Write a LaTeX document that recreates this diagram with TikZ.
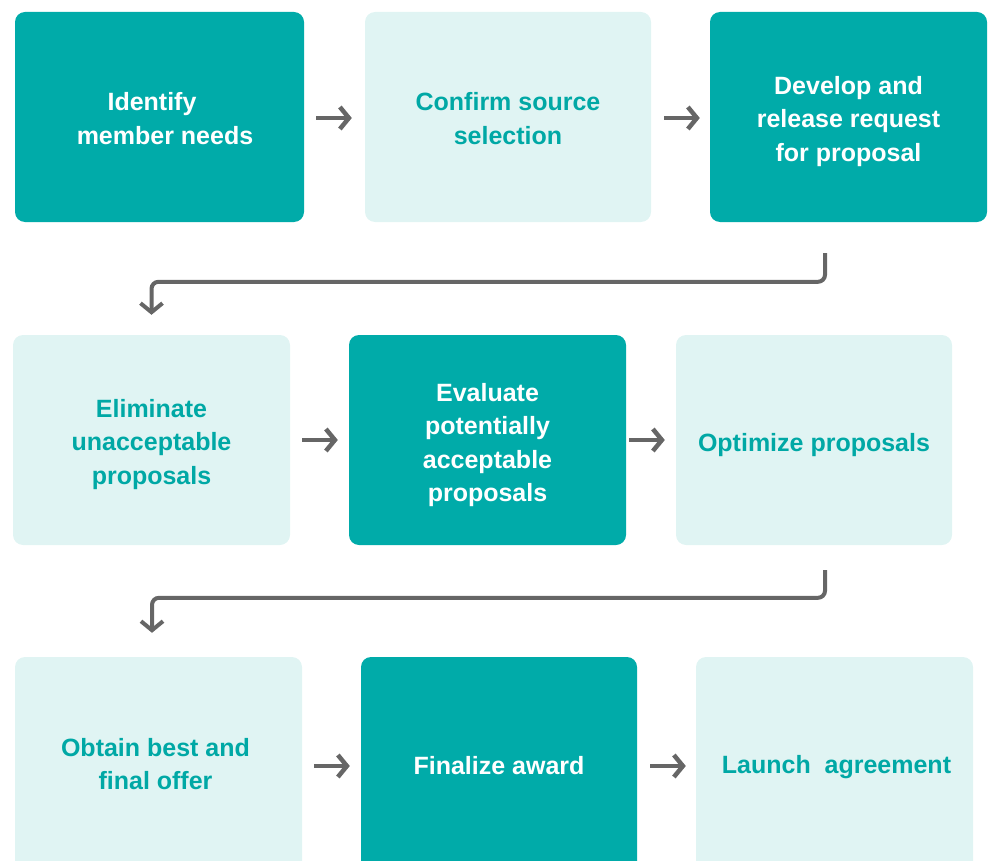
\documentclass[tikz,border=0pt]{standalone}
\usepackage{fontspec}
\setmainfont{Liberation Sans}
\usetikzlibrary{arrows.meta}
\definecolor{tealdark}{HTML}{00ABA9}
\definecolor{teallight}{HTML}{E0F4F3}
\definecolor{tealtext}{HTML}{00A8A5}
\definecolor{arrowgray}{HTML}{666666}
\tikzset{
  box/.style={rounded corners=10pt, inner sep=0pt},
  boxtext/.style={inner sep=0pt, align=center,
    font=\fontsize{25}{33.5}\selectfont\bfseries},
  darkbox/.style={box, fill=tealdark},
  lightbox/.style={box, fill=teallight},
  darktext/.style={boxtext, text=white},
  lighttext/.style={boxtext, text=tealtext},
  flow/.style={draw=arrowgray, line width=4.5pt,
    -{Straight Barb[length=9pt,width=22pt]}},
  elbow/.style={flow, line width=4pt, rounded corners=7pt}
}
\begin{document}
\begin{tikzpicture}[x=1pt,y=-1pt]
\useasboundingbox (0,0) rectangle (990,861);
\clip (0,0) rectangle (990,861);
% row 1
\node[darkbox, minimum width=289pt, minimum height=210pt,
  label={[darktext, yshift=-1.5pt]center:{Identify\hspace*{15pt}\\\hspace*{11pt}member needs}}] (b1) at (159.5,117) {};
\node[lightbox, minimum width=286pt, minimum height=210pt,
  label={[lighttext, yshift=-1.5pt]center:{Confirm source\\selection}}] (b2) at (508,117) {};
\node[darkbox, minimum width=277pt, minimum height=210pt,
  label={[darktext, yshift=-4.5pt]center:{Develop and\\release request\\for proposal}}] (b3) at (848.5,117) {};
% row 2
\node[lightbox, minimum width=277pt, minimum height=210pt,
  label={[lighttext, yshift=-4.5pt]center:{Eliminate\\unacceptable\\proposals}}] (b4) at (151.5,440) {};
\node[darkbox, minimum width=277pt, minimum height=210pt,
  label={[darktext, yshift=-5pt]center:{Evaluate\\potentially\\acceptable\\proposals}}] (b5) at (487.5,440) {};
\node[lightbox, minimum width=276pt, minimum height=210pt,
  label={[lighttext, yshift=-5pt]center:{Optimize proposals}}] (b6) at (814,440) {};
% row 3
\node[lightbox, minimum width=287pt, minimum height=218pt,
  label={[lighttext, yshift=2pt, xshift=-3pt]center:{Obtain best and\\final offer}}] (b7) at (158.5,766) {};
\node[darkbox, minimum width=276pt, minimum height=218pt,
  label={[darktext]center:{Finalize award}}] (b8) at (499,766) {};
\node[lightbox, minimum width=277pt, minimum height=218pt,
  label={[lighttext, yshift=-1pt, xshift=2pt]center:{Launch\ \ agreement}}] (b9) at (834.5,766) {};
% straight arrows
\draw[flow, shorten <=12pt, shorten >=13pt] ([yshift=-1pt]b1.east) -- ([yshift=-1pt]b2.west);
\draw[flow, shorten <=13pt, shorten >=10pt] ([yshift=-1pt]b2.east) -- ([yshift=-1pt]b3.west);
\draw[flow, shorten <=12pt, shorten >=11pt] (b4.east) -- (b5.west);
\draw[flow, shorten <=3pt, shorten >=11pt] (b5.east) -- (b6.west);
\draw[flow, shorten <=12pt, shorten >=11pt] (b7.east) -- (b8.west);
\draw[flow, shorten <=13pt, shorten >=10pt] (b8.east) -- (b9.west);
% elbow connectors
\draw[elbow] ([xshift=-23.5pt,yshift=-31pt]b3.south) |- ([yshift=53pt]b4.north) -- ([yshift=20pt]b4.north);
\draw[elbow] ([xshift=11pt,yshift=-25pt]b6.south) |- ([xshift=-6.5pt,yshift=59pt]b7.north) -- ([xshift=-6.5pt,yshift=24pt]b7.north);
\end{tikzpicture}
\end{document}
